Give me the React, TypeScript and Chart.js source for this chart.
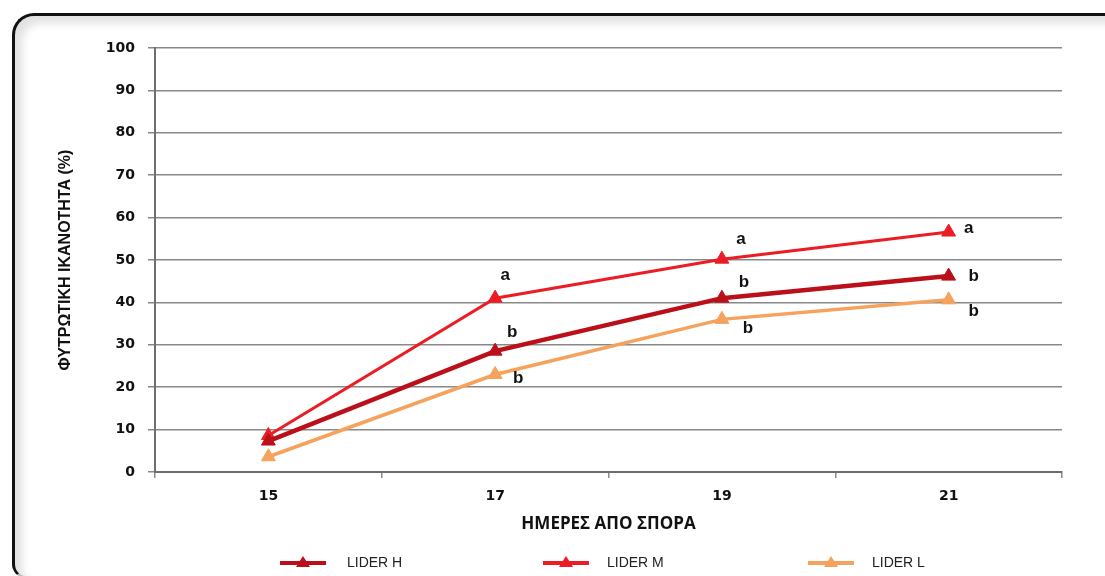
import React, { useEffect, useRef } from "react";
import { Chart, registerables } from "chart.js";

Chart.register(...registerables);

const categories = ["15", "17", "19", "21"];
const liderH = [7.3, 28.5, 41, 46.2];
const liderM = [8.6, 41, 50.2, 56.6];
const liderL = [3.6, 23, 36, 40.6];
const sigH = ["", "b", "b", "b"];
const sigM = ["", "a", "a", "a"];
const sigL = ["", "b", "b", "b"];
const seriesNames = ["LIDER H", "LIDER M", "LIDER L"];
const yTitle = "ΦΥΤΡΩΤΙΚΗ ΙΚΑΝΟΤΗΤΑ (%)";
const xTitle = "ΗΜΕΡΕΣ ΑΠΟ ΣΠΟΡΑ";

const colors = ["#BB101A", "#EC1C24", "#F5A25C"];
const lineWidths = [4.5, 3, 3.5];
// letter offsets (px) relative to each point, per series
const letterOffsets = [
  [[0, 0], [17, -19], [22, -16], [25, 0]],
  [[0, 0], [10, -23], [19, -20], [20, -4]],
  [[0, 0], [23, 4], [26, 9], [25, 11]],
];
const legendPos = [
  { lx: 280, tx: 347 },
  { lx: 543, tx: 607 },
  { lx: 808, tx: 872 },
];
const legendY = 563;

const sigPlugin = {
  id: "sigLetters",
  afterDatasetsDraw(chart: any) {
    const ctx = chart.ctx;
    const sigs = [sigH, sigM, sigL];
    ctx.save();
    ctx.font = "bold 17px 'Liberation Sans', Arial, sans-serif";
    ctx.fillStyle = "#111";
    ctx.textAlign = "center";
    ctx.textBaseline = "middle";
    chart.data.datasets.forEach((_ds: any, di: number) => {
      const meta = chart.getDatasetMeta(di);
      meta.data.forEach((pt: any, i: number) => {
        const s = sigs[di][i];
        if (!s) return;
        const [dx, dy] = letterOffsets[di][i];
        ctx.fillText(s, pt.x + dx, pt.y + dy);
      });
    });
    ctx.restore();
  },
  afterDraw(chart: any) {
    const ctx = chart.ctx;
    ctx.save();
    seriesNames.forEach((name, i) => {
      const { lx, tx } = legendPos[i];
      ctx.strokeStyle = colors[i];
      ctx.lineWidth = 4;
      ctx.beginPath();
      ctx.moveTo(lx, legendY);
      ctx.lineTo(lx + 46, legendY);
      ctx.stroke();
      ctx.fillStyle = colors[i];
      const cx = lx + 23;
      ctx.beginPath();
      ctx.moveTo(cx, legendY - 7);
      ctx.lineTo(cx + 7, legendY + 4);
      ctx.lineTo(cx - 7, legendY + 4);
      ctx.closePath();
      ctx.fill();
      ctx.fillStyle = "#222";
      ctx.font = "14px 'Liberation Sans', Arial, sans-serif";
      ctx.textAlign = "left";
      ctx.textBaseline = "middle";
      ctx.fillText(name, tx, legendY);
    });
    ctx.restore();
  },
};

export default function App() {
  const ref = useRef<HTMLCanvasElement | null>(null);
  useEffect(() => {
    if (!ref.current) return;
    const mk = (label: string, data: number[], i: number) => ({
      label,
      data,
      borderColor: colors[i],
      backgroundColor: colors[i],
      borderWidth: lineWidths[i],
      pointStyle: "triangle",
      pointRadius: 8,
      pointBorderWidth: 1,
      pointBackgroundColor: colors[i],
      pointBorderColor: colors[i],
      tension: 0,
    });
    const chart = new Chart(ref.current, {
      type: "line",
      data: {
        labels: categories,
        datasets: [
          mk(seriesNames[0], liderH, 0),
          mk(seriesNames[1], liderM, 1),
          mk(seriesNames[2], liderL, 2),
        ],
      },
      options: {
        animation: false,
        responsive: false,
        devicePixelRatio: 1,
        layout: { padding: { left: 53, right: 43, top: 48, bottom: 38 } },
        plugins: { legend: { display: false }, tooltip: { enabled: false } },
        scales: {
          x: {
            type: "category",
            offset: true,
            grid: {
              offset: true,
              drawOnChartArea: true,
              color: (c: any) => (c.index === categories.length ? "#6e6e6e" : "rgba(0,0,0,0)"),
              tickColor: "#8a8a8a",
              tickLength: 6,
              lineWidth: 1.5,
            },
            border: { color: "#6e6e6e", width: 2 },
            ticks: {
              color: "#111",
              font: { family: "'DejaVu Sans', Verdana, sans-serif", size: 14, weight: "bold" },
              padding: 10,
            },
            title: {
              display: true,
              text: xTitle,
              color: "#111",
              font: { family: "'Open Sans', sans-serif", size: 17, weight: "bold" },
              padding: { top: 4, bottom: 4 },
            },
            afterFit: (s: any) => {
              s.height = 66;
            },
          },
          y: {
            min: 0,
            max: 100,
            ticks: {
              stepSize: 10,
              color: "#111",
              font: { family: "'DejaVu Sans', Verdana, sans-serif", size: 14, weight: "bold" },
              padding: 13,
            },
            grid: { color: "#888888", lineWidth: 1.5, tickLength: 7 },
            border: { color: "#6e6e6e", width: 2 },
            title: {
              display: true,
              text: yTitle,
              color: "#111",
              font: { family: "'Liberation Sans', Arial, sans-serif", size: 16, weight: "bold" },
              padding: { top: 3, bottom: 3 },
            },
            afterFit: (s: any) => {
              s.width = 102;
            },
          },
        },
      } as any,
      plugins: [sigPlugin],
    });
    return () => chart.destroy();
  }, []);

  return (
    <div
      style={{
        position: "fixed",
        left: 0,
        top: 0,
        width: 1105,
        height: 576,
        overflow: "hidden",
        background: "#fff",
      }}
    >
      <div
        style={{
          position: "absolute",
          left: 12,
          top: 13,
          width: 1120,
          height: 560,
          borderTop: "3px solid #111",
          borderLeft: "3px solid #111",
          borderBottom: "2px solid #bbb",
          borderRadius: "22px 0 0 14px",
          boxShadow: "inset 7px 7px 9px rgba(0,0,0,0.12)",
          background: "#fff",
        }}
      />
      <canvas
        ref={ref}
        width={1105}
        height={576}
        style={{ position: "absolute", left: 0, top: 0, width: 1105, height: 576 }}
      />
    </div>
  );
}
